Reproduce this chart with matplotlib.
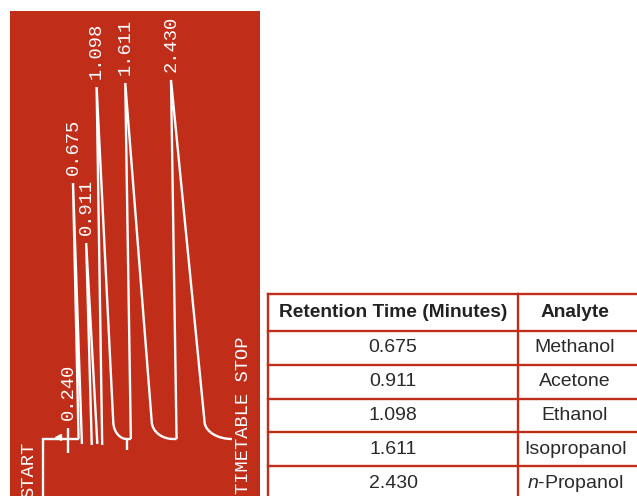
import numpy as np
import matplotlib
matplotlib.use('Agg')
import matplotlib.pyplot as plt
from matplotlib.transforms import offset_copy

plt.rcParams['mathtext.fontset'] = 'custom'
plt.rcParams['mathtext.it'] = 'Liberation Sans:italic'
plt.rcParams['mathtext.rm'] = 'Liberation Sans'

# integrator report: retention time (min), analyte, peak height (recorder units)
retention = [0.675, 0.911, 1.098, 1.611, 2.430]
analytes = ['Methanol', 'Acetone', 'Ethanol', 'Isopropanol', r'$\mathit{n}$-Propanol']
heights = [256, 196, 352, 356, 359]
widths = [0.16, 0.20, 0.54, 0.86, 1.09]    # base width, min
event_time = 0.240
stop_time = 3.72

RED = '#c02e1a'
MONO = 'Liberation Mono'

# chart paper feed: paper runs slow before the first peak
T_KNOTS = [-1.0, 0.0, 0.240, 0.675, 5.0]
P_KNOTS = [-55.0, 0.0, 25.0, 30.0, 30.0 + 4.325 * 55.84]

def paper(t):
    return np.interp(t, T_KNOTS, P_KNOTS)

def unpaper(p):
    return np.interp(p, P_KNOTS, T_KNOTS)

fig = plt.figure(figsize=(6.37, 4.96), dpi=100)
ax = fig.add_axes([10 / 637, 0, 250 / 637, 485 / 496])
ax.set_facecolor(RED)
ax.set_xscale('function', functions=(paper, unpaper))
ax.set_xlim(unpaper(-33), unpaper(217))
ax.set_ylim(-57, 428)
ax.set_xticks([])
ax.set_yticks([])
for s in ax.spines.values():
    s.set_visible(False)

pen = dict(color='white', lw=1.7, solid_capstyle='butt', solid_joinstyle='miter')
lean = 0.10

# start line and baseline up to the first peak
ax.plot([0, 0, retention[0] + lean], [-57, 0, 0], **pen)
ax.plot([event_time, event_time], [11, -14], **pen)
ax.plot([0.14], [2.5], marker='<', ms=5, color='white', mec='white')

prev_open = False
for i, (rt, h, w) in enumerate(zip(retention, heights, widths)):
    y0 = -6 if prev_open else 0
    xs = [rt + lean, rt]
    ys = [y0, h]
    end = rt + w
    if w < 0.3:
        # unresolved: pen drops below baseline before the next peak
        xs.append(end)
        ys.append(-5)
        prev_open = True
    else:
        r = 0.45 * w
        knee = end - r
        rh = 18
        th = np.linspace(np.pi, 1.5 * np.pi, 20)
        xs.append(knee)
        ys.append(rh)
        xs += list(end + r * np.cos(th))
        ys += list(rh + rh * np.sin(th))
        if i + 1 < len(retention):
            xs.append(retention[i + 1] + lean)
            ys.append(0)
        prev_open = False
    ax.plot(xs, ys, **pen)

    ax.text(rt, h + 8, f'{rt:.3f}', rotation=90, ha='center', va='bottom',
            color='white', fontsize=13.5, family=MONO)

# baseline mark after the ethanol tail
t_mark = retention[2] + widths[2]
ax.plot([t_mark, t_mark], [0, -11], **pen)

ax.text(event_time, 19, f'{event_time:.3f}', rotation=90, ha='center', va='bottom',
        color='white', fontsize=13.5, family=MONO)
ax.text(0, -3, 'START', rotation=90, ha='center', va='top', color='white',
        fontsize=13.5, family=MONO,
        transform=offset_copy(ax.transData, fig=fig, x=-10, units='points'))
ax.text(stop_time, 102, 'TIMETABLE STOP', rotation=90, ha='center', va='top',
        color='white', fontsize=13.5, family=MONO)

# retention time table, laid out in figure pixels
tab = fig.add_axes([0, 0, 1, 1])
tab.set_xlim(0, 637)
tab.set_ylim(496, 0)
tab.axis('off')

left, mid, right = 268, 518, 640
top, head_h, row_h = 294, 37, 33.8
n_rows = len(retention)
row_edges = [top, top + head_h] + [top + head_h + row_h * (k + 1) for k in range(n_rows)]
for y in row_edges:
    tab.plot([left, right], [y, y], color=RED, lw=1.7)
for x in (left, mid):
    tab.plot([x, x], [top, row_edges[-1]], color=RED, lw=1.7)

c1 = (left + mid) / 2
c2 = 575
hy = top + head_h / 2
tab.text(c1, hy, 'Retention Time (Minutes)', ha='center', va='center',
         fontsize=13.8, fontweight='bold', family='Liberation Sans', color='#222222')
tab.text(c2, hy, 'Analyte', ha='center', va='center',
         fontsize=13.8, fontweight='bold', family='Liberation Sans', color='#222222')
for k, (rt, name) in enumerate(zip(retention, analytes)):
    y = top + head_h + row_h * (k + 0.5)
    tab.text(c1, y, f'{rt:.3f}', ha='center', va='center', fontsize=14,
             family='Liberation Sans', color='#2a2a2a')
    tab.text(c2, y, name, ha='center', va='center', fontsize=14,
             family='Liberation Sans', color='#2a2a2a')

fig.savefig('out.png', dpi=100)
